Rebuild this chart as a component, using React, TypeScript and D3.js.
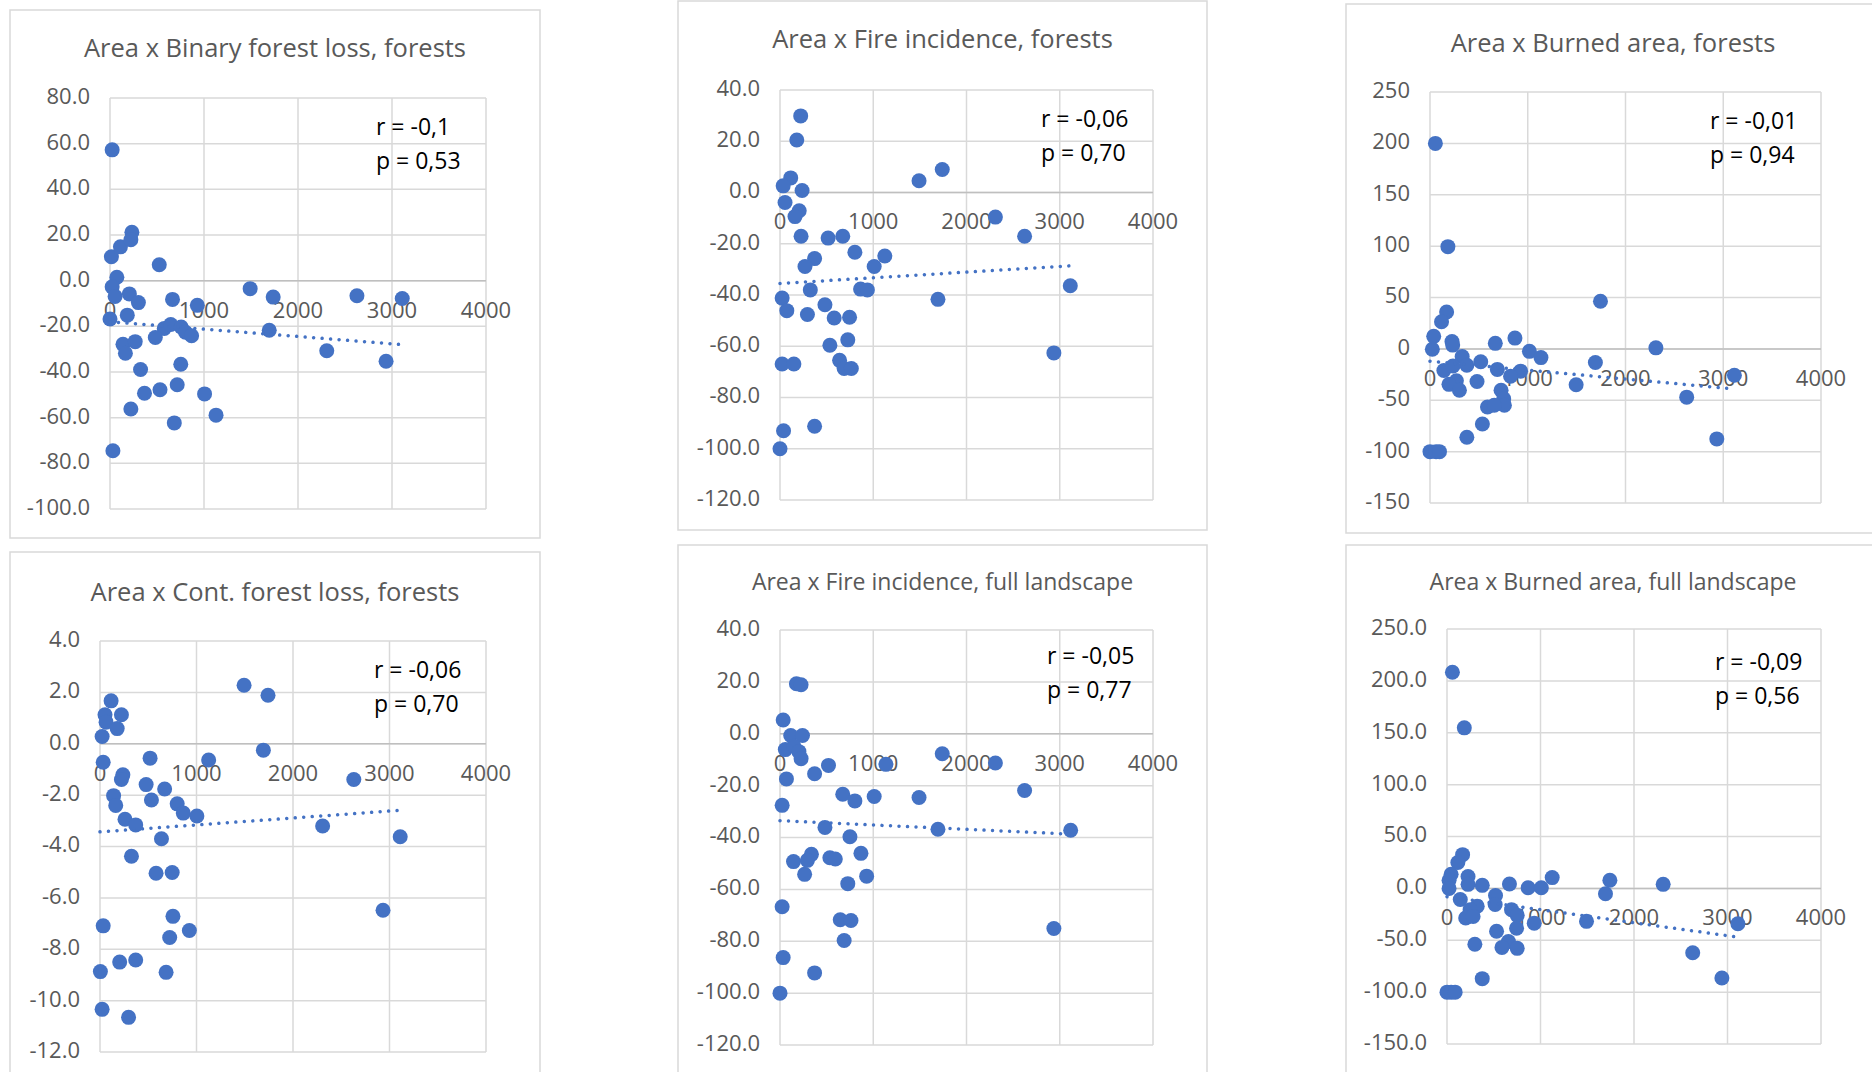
import React from 'react';
import * as d3 from 'd3';

// ---- data (x = area, y = change) ----
const titles = [
  'Area x Binary forest loss, forests',
  'Area x Fire incidence, forests',
  'Area x Burned area, forests',
  'Area x Cont. forest loss, forests',
  'Area x Fire incidence, full landscape',
  'Area x Burned area, full landscape',
];

const statR = ['r = -0,1', 'r = -0,06', 'r = -0,01', 'r = -0,06', 'r = -0,05', 'r = -0,09'];
const statP = ['p = 0,53', 'p = 0,70', 'p = 0,94', 'p = 0,70', 'p = 0,77', 'p = 0,56'];

const xTicks = [0, 1000, 2000, 3000, 4000];
const yTicksBinary = [80, 60, 40, 20, 0, -20, -40, -60, -80, -100];
const yTicksFire = [40, 20, 0, -20, -40, -60, -80, -100, -120];
const yTicksBurned = [250, 200, 150, 100, 50, 0, -50, -100, -150];
const yTicksCont = [4, 2, 0, -2, -4, -6, -8, -10, -12];

const binaryLossPts: [number, number][] = [
  [23, 57.3], [15, 10.5], [111, 14.8], [233, 21.2], [222, 17.9], [524, 7.0], [73, 1.5],
  [23, -2.7], [54, -6.9], [206, -5.8], [302, -9.6], [665, -8.2], [929, -10.8], [0, -16.8],
  [184, -15.1], [577, -20.9], [646, -19.2], [757, -20.3], [803, -22.6], [868, -24.1],
  [482, -24.9], [138, -27.9], [268, -26.7], [164, -31.8], [325, -38.9], [753, -36.6],
  [367, -49.3], [532, -47.8], [715, -45.6], [1006, -49.6], [222, -56.2], [1128, -58.9],
  [684, -62.3], [31, -74.5], [1491, -3.5], [1736, -7.2], [1694, -21.7], [2627, -6.6],
  [3109, -7.8], [2306, -30.7], [2937, -35.3],
];

const fireForestPts: [number, number][] = [
  [222, 29.9], [180, 20.5], [115, 5.7], [34, 2.6], [237, 0.8], [54, -3.9], [206, -7.1],
  [161, -9.4], [226, -17.1], [516, -17.8], [673, -17.1], [803, -23.3], [371, -25.8],
  [268, -28.9], [1124, -24.8], [1010, -28.9], [325, -38.0], [864, -37.7], [937, -38.0],
  [23, -41.2], [73, -46.1], [294, -47.6], [482, -43.8], [581, -49.0], [746, -48.7],
  [535, -59.6], [727, -57.5], [23, -66.9], [149, -66.9], [639, -65.5], [688, -68.7],
  [765, -68.7], [38, -93.0], [371, -91.2], [0, -100], [1491, 4.6], [1740, 9.0],
  [2310, -9.6], [2623, -17.1], [1694, -41.7], [3113, -36.4], [2937, -62.6],
];

const burnedForestPts: [number, number][] = [
  [55, 200], [183, 99.5], [170, 35.9], [118, 26.4], [38, 12.2], [225, 7.1], [232, 3.7],
  [24, -0.3], [668, 5.4], [869, 10.5], [1017, -2.4], [1135, -8.5], [329, -7.4], [377, -15.9],
  [519, -12.5], [142, -21.0], [235, -16.6], [270, -31.1], [194, -34.5], [301, -40.3],
  [481, -31.8], [689, -20.0], [927, -21.7], [824, -26.7], [727, -40.3], [754, -48.7],
  [761, -54.8], [588, -56.5], [657, -54.8], [536, -73.1], [377, -86.0], [0, -100],
  [62, -100], [97, -100], [1744, 46.4], [1692, -13.2], [2311, 1.0], [1495, -34.9],
  [2626, -47.0], [2934, -87.6], [3114, -25.7],
];

const contLossPts: [number, number][] = [
  [115, 1.67], [52, 1.13], [222, 1.13], [63, 0.84], [178, 0.59], [22, 0.28], [33, -0.72],
  [519, -0.56], [237, -1.21], [222, -1.39], [478, -1.59], [670, -1.76], [141, -2.02],
  [163, -2.4], [533, -2.19], [800, -2.34], [863, -2.7], [1004, -2.81], [259, -2.94],
  [370, -3.16], [637, -3.7], [326, -4.38], [581, -5.04], [748, -5.01], [33, -7.09],
  [756, -6.72], [722, -7.54], [926, -7.27], [4, -8.87], [204, -8.5], [370, -8.42],
  [685, -8.9], [22, -10.34], [296, -10.65], [1493, 2.28], [1741, 1.89], [1693, -0.25],
  [1126, -0.63], [2630, -1.39], [2307, -3.2], [3111, -3.62], [2933, -6.48],
];

const fireLandPts: [number, number][] = [
  [176, 19.3], [226, 18.9], [34, 5.3], [115, -0.7], [241, -0.7], [57, -6.1], [149, -4.8],
  [203, -6.9], [226, -9.6], [520, -12.2], [1136, -11.8], [371, -15.4], [69, -17.4],
  [23, -27.6], [673, -23.3], [803, -25.9], [1010, -24.2], [1491, -24.6], [1740, -7.7],
  [2310, -11.3], [2623, -21.9], [1694, -36.8], [3117, -37.2], [482, -36.1], [750, -39.7],
  [145, -49.3], [337, -46.5], [294, -48.8], [535, -47.8], [593, -48.3], [868, -46.1],
  [264, -54.2], [929, -54.9], [727, -57.8], [23, -66.7], [646, -71.7], [761, -72.0],
  [688, -79.7], [34, -86.3], [371, -92.2], [0, -100], [2937, -75.1],
];

const burnedLandPts: [number, number][] = [
  [58, 208.3], [185, 154.7], [167, 32.5], [116, 25.0], [44, 13.6], [22, 7.8], [22, 0],
  [225, 11.4], [225, 3.9], [377, 2.9], [668, 4.2], [868, 0.6], [1009, 0.6], [1125, 10.4],
  [519, -6.8], [142, -10.7], [515, -15.6], [323, -17.2], [247, -20.5], [200, -28.6],
  [279, -27.0], [690, -20.5], [751, -26.0], [744, -38.4], [933, -33.5], [530, -41.3],
  [657, -51.3], [588, -56.9], [751, -57.8], [298, -53.9], [377, -87.0], [0, -100],
  [44, -100], [87, -100], [1742, 7.8], [1695, -5.2], [2312, 3.9], [1492, -31.8],
  [2628, -62.1], [2940, -86.4], [3111, -34.1],
];

// trendline endpoints [x0, y0, x1, y1] as drawn in the reference
const trendBinary = [0, -18, 3109, -28];
const trendFireForest = [0, -35.5, 3113, -28.6];
const trendBurnedForest = [0, -12, 3114, -39];
const trendCont = [0, -3.43, 3111, -2.59];
const trendFireLand = [0, -33.5, 3117, -38.7];
const trendBurnedLand = [0, -8, 3111, -47];

// ---- layout ----
const BLUE = '#4472C4';
const GRID = '#d9d9d9';
const TXT = '#595959';
const FONT = '"Open Sans", sans-serif';

interface PanelProps {
  frame: [number, number, number, number];
  plot: [number, number, number, number];
  title: string;
  titleY: number;
  titleSize: number;
  pts: [number, number][];
  yTicks: number[];
  yFmt: (v: number) => string;
  trend: number[];
  r: string;
  p: string;
  statX: number;
  statY: number;
}

const Panel: React.FC<PanelProps> = (props) => {
  const { frame, plot, title, titleY, titleSize, pts, yTicks, yFmt, trend, r, p, statX, statY } = props;
  const [x0, y0, x1, y1] = plot;
  const x = d3.scaleLinear().domain([0, 4000]).range([x0, x1]);
  const y = d3.scaleLinear().domain([d3.min(yTicks)!, d3.max(yTicks)!]).range([y1, y0]);
  const zeroY = y(0);
  const titleX = (frame[0] + frame[2]) / 2;
  const line = d3.line<number[]>().x(d => x(d[0])).y(d => y(d[1]));
  return (
    <g>
      <rect x={frame[0]} y={frame[1]} width={frame[2] - frame[0]} height={frame[3] - frame[1]}
        fill="#fff" stroke={GRID} strokeWidth={1.5} />
      <text x={titleX} y={titleY} textAnchor="middle" dominantBaseline="middle"
        fontSize={titleSize} fill={TXT} fontFamily={FONT}>{title}</text>
      {yTicks.map(t => (
        <line key={'h' + t} x1={x0} x2={x1} y1={y(t)} y2={y(t)} stroke={GRID} strokeWidth={1.5} />
      ))}
      {xTicks.map(t => (
        <line key={'v' + t} x1={x(t)} x2={x(t)} y1={y0} y2={y1} stroke={GRID} strokeWidth={1.5} />
      ))}
      <line x1={x0} x2={x1} y1={zeroY} y2={zeroY} stroke="#bfbfbf" strokeWidth={1.5} />
      {yTicks.map(t => (
        <text key={'yl' + t} x={x0 - 20} y={y(t)} textAnchor="end" dominantBaseline="middle"
          fontSize={22} fill={TXT} fontFamily={FONT}>{yFmt(t)}</text>
      ))}
      {xTicks.map(t => (
        <text key={'xl' + t} x={x(t)} y={zeroY + 31} textAnchor="middle" dominantBaseline="middle"
          fontSize={22} fill={TXT} fontFamily={FONT}>{t}</text>
      ))}
      {pts.map((d, i) => (
        <circle key={i} cx={x(d[0])} cy={y(d[1])} r={7.5} fill={BLUE} />
      ))}
      <path d={line([[trend[0], trend[1]], [trend[2], trend[3]]]) || ''} fill="none" stroke={BLUE}
        strokeWidth={3.5} strokeLinecap="round" strokeDasharray="0.01 8.5" />
      <text x={statX} y={statY} dominantBaseline="middle" fontSize={23} fill="#000" fontFamily={FONT}>{r}</text>
      <text x={statX} y={statY + 34} dominantBaseline="middle" fontSize={23} fill="#000" fontFamily={FONT}>{p}</text>
    </g>
  );
};

const f1 = (v: number) => v.toFixed(1);
const f0 = (v: number) => v.toFixed(0);

export default function App() {
  return (
    <svg width={1872} height={1072} style={{ position: 'absolute', left: 0, top: 0, background: '#fff' }}>
      <Panel frame={[10, 10, 540, 538]} plot={[110, 98, 486, 509]} title={titles[0]} titleY={50} titleSize={25.5}
        pts={binaryLossPts} yTicks={yTicksBinary} yFmt={f1} trend={trendBinary}
        r={statR[0]} p={statP[0]} statX={376} statY={129} />
      <Panel frame={[678, 1, 1207, 530]} plot={[780, 90, 1153, 500]} title={titles[1]} titleY={41} titleSize={25.5}
        pts={fireForestPts} yTicks={yTicksFire} yFmt={f1} trend={trendFireForest}
        r={statR[1]} p={statP[1]} statX={1041} statY={121} />
      <Panel frame={[1346, 4, 1880, 533]} plot={[1430, 92, 1821, 503]} title={titles[2]} titleY={45} titleSize={25.5}
        pts={burnedForestPts} yTicks={yTicksBurned} yFmt={f0} trend={trendBurnedForest}
        r={statR[2]} p={statP[2]} statX={1710} statY={123} />
      <Panel frame={[10, 552, 540, 1090]} plot={[100, 641, 486, 1052]} title={titles[3]} titleY={594} titleSize={25.5}
        pts={contLossPts} yTicks={yTicksCont} yFmt={f1} trend={trendCont}
        r={statR[3]} p={statP[3]} statX={374} statY={672} />
      <Panel frame={[678, 545, 1207, 1090]} plot={[780, 630, 1153, 1045]} title={titles[4]} titleY={584} titleSize={23}
        pts={fireLandPts} yTicks={yTicksFire} yFmt={f1} trend={trendFireLand}
        r={statR[4]} p={statP[4]} statX={1047} statY={658} />
      <Panel frame={[1346, 545, 1880, 1090]} plot={[1447, 629, 1821, 1044]} title={titles[5]} titleY={584} titleSize={23}
        pts={burnedLandPts} yTicks={yTicksBurned} yFmt={f1} trend={trendBurnedLand}
        r={statR[5]} p={statP[5]} statX={1715} statY={664} />
    </svg>
  );
}
